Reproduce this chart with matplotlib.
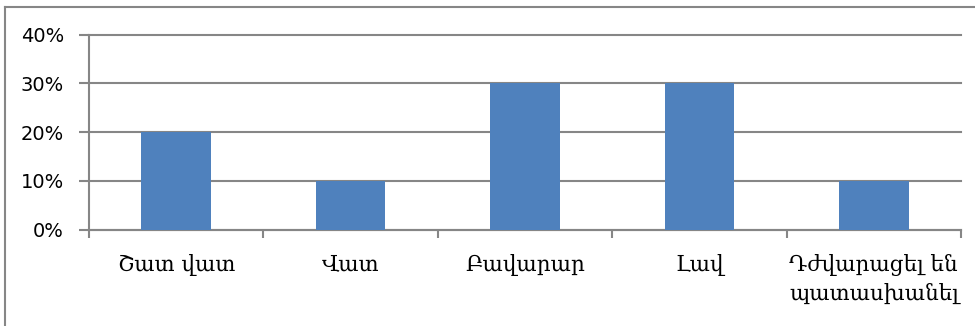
import matplotlib
matplotlib.use("Agg")
import matplotlib.pyplot as plt
from matplotlib.lines import Line2D
from matplotlib.ticker import PercentFormatter

# survey answers and their share
categories = ["Շատ վատ", "Վատ", "Բավարար", "Լավ", "Դժվարացել են\nպատասխանել"]
shares = [20, 10, 30, 30, 10]
y_ticks = [0, 10, 20, 30, 40]

bar_color = "#4F81BD"
line_gray = "#868686"

fig = plt.figure(figsize=(9.75, 3.26), dpi=100)
ax = fig.add_axes([89 / 975, (326 - 229.5) / 326, 872 / 975, 195 / 326])

x = list(range(len(categories)))
ax.bar(x, shares, width=0.4, color=bar_color, zorder=3)

ax.set_xlim(-0.5, len(categories) - 0.5)
ax.set_ylim(0, 40)
ax.set_yticks(y_ticks)
ax.yaxis.set_major_formatter(PercentFormatter(decimals=0))
ax.grid(axis="y", color=line_gray, linewidth=1.5, zorder=0)
for gl in ax.get_ygridlines():
    gl.set_clip_on(False)

# ticks on category boundaries, labels in the middle
ax.set_xticks([i - 0.5 for i in range(len(categories) + 1)])
ax.set_xticklabels([])
ax.set_xticks(x, minor=True)
ax.set_xticklabels(categories, minor=True, fontsize=15.5, linespacing=1.35,
                   family=["DejaVu Serif", "DejaVu Sans"])
ax.tick_params(axis="x", which="major", length=6, width=1.5, color=line_gray)
ax.tick_params(axis="x", which="minor", length=0, pad=18)
ax.tick_params(axis="y", length=7, width=1.5, color=line_gray, labelsize=14, pad=11)
for lab in ax.get_yticklabels():
    lab.set_family("DejaVu Sans")

for side in ["top", "right"]:
    ax.spines[side].set_visible(False)
for side in ["left", "bottom"]:
    ax.spines[side].set_color(line_gray)
    ax.spines[side].set_linewidth(1.5)

# outer chart border (cut off on right and bottom)
fig.add_artist(Line2D([5 / 975, 1], [1 - 7 / 326, 1 - 7 / 326], color=line_gray, linewidth=1.5))
fig.add_artist(Line2D([5 / 975, 5 / 975], [0, 1 - 7 / 326], color=line_gray, linewidth=1.5))

fig.savefig("out.png", dpi=100)
